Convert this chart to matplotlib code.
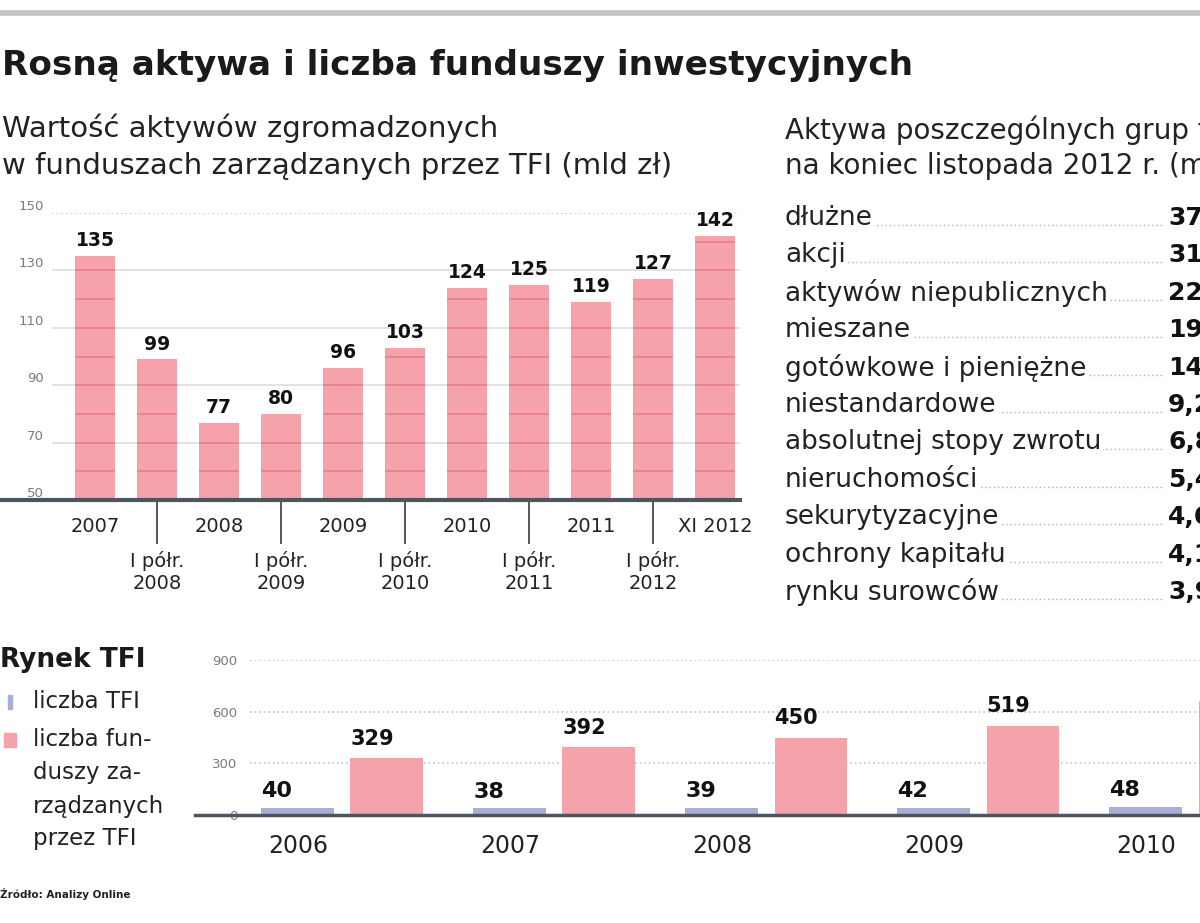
import numpy as np
import matplotlib
matplotlib.use("Agg")
import matplotlib.pyplot as plt
from matplotlib.lines import Line2D
from matplotlib.patches import Rectangle

plt.rcParams['font.family'] = ['DejaVu Sans']

# ---------------- data ----------------
title = "Rosną aktywa i liczba funduszy inwestycyjnych"
periods_year = ["2007", "2008", "2009", "2010", "2011", "XI 2012"]
periods_half = ["I półr.\n2008", "I półr.\n2009", "I półr.\n2010", "I półr.\n2011", "I półr.\n2012"]
assets = [135, 99, 77, 80, 96, 103, 124, 125, 119, 127, 142]   # mld zł

group_labels = ["dłużne", "akcji", "aktywów niepublicznych", "mieszane",
                "gotówkowe i pieniężne", "niestandardowe", "absolutnej stopy zwrotu",
                "nieruchomości", "sekurytyzacyjne", "ochrony kapitału", "rynku surowców"]
group_values = [37.2, 31.5, 22.4, 19.6, 14.3, 9.2, 6.8, 5.4, 4.6, 4.1, 3.9]

years_small = ["2006", "2007", "2008", "2009", "2010"]
tfi_count = [40, 38, 39, 42, 48]
fund_count = [329, 392, 450, 519, 660]

# ---------------- styling ----------------
W, H = 1200, 923
PINK = '#f6a2ab'
STRIPE = '#e8838f'
BLUE = '#a9afd6'
DARK = '#4d5560'
GREY = '#7a7a7a'

fig = plt.figure(figsize=(12, 9.23), dpi=100)


def fx(x):
    return x / W


def fy(y):
    return 1 - y / H


def rect(l, t, r, b):
    return [fx(l), fy(b), fx(r) - fx(l), fy(t) - fy(b)]


# header rule
fig.add_artist(Line2D([0, 1], [fy(13), fy(13)], color='#c2c2c2', lw=4))

fig.text(fx(2), fy(65), title, fontsize=24.7, fontweight='bold', va='center', ha='left', color='#1a1a1a')
fig.text(fx(2), fy(128), "Wartość aktywów zgromadzonych", fontsize=21, va='center', color='#222')
fig.text(fx(2), fy(166), "w funduszach zarządzanych przez TFI (mld zł)", fontsize=21, va='center', color='#222')

# ---------------- main bar chart ----------------
ax = fig.add_axes(rect(52, 213, 740, 500))
n = len(assets)
x = np.arange(n)
ax.set_xlim(-0.694, 10.40)
ax.set_ylim(50, 150)

for v in [70, 90, 110, 130]:
    ax.axhline(v, color='#dadada', lw=1.1, zorder=1)
ax.axhline(150, color='#bdbdbd', lw=1.1, ls=(0, (1, 2)), zorder=1)

bw_main = 0.65
vals = np.array(assets, dtype=float)
ax.bar(x, vals - 50, bottom=50, width=bw_main, color=PINK, zorder=2)
# darker stripes across the bars at every 10 units
for i, v in enumerate(assets):
    levels = np.arange(60, v, 10)
    ax.hlines(levels, i - bw_main / 2, i + bw_main / 2, color=STRIPE, lw=1.4, zorder=3)

for i, v in enumerate(assets):
    ax.annotate(str(v), (i, v), xytext=(0, 4), textcoords='offset points',
                ha='center', va='bottom', fontsize=13.5, fontweight='bold', color='#111', zorder=6)

ax.set_xticks(x[::2], periods_year)
ax.set_xticks(x[1::2], periods_half, minor=True)
ax.tick_params(axis='x', which='major', length=0, pad=12, labelsize=14, labelcolor='#222')
ax.tick_params(axis='x', which='minor', length=32, width=1.4, color='#555', pad=5,
               labelsize=14, labelcolor='#222')
ax.set_yticks([50, 70, 90, 110, 130, 150])
ax.tick_params(axis='y', length=0, pad=6, labelsize=9.5, labelcolor=GREY)
for lab in ax.get_yticklabels():
    lab.set_va('bottom')
for s in ax.spines.values():
    s.set_visible(False)
ax.plot([-1.533, 10.40], [50, 50], color=DARK, lw=3, clip_on=False, zorder=5)

# ---------------- right table ----------------
fig.text(fx(785), fy(130), "Aktywa poszczególnych grup funduszy", fontsize=20, va='center', color='#222')
fig.text(fx(785), fy(166), "na koniec listopada 2012 r. (mld zł)", fontsize=20, va='center', color='#222')
for i, (lab, val) in enumerate(zip(group_labels, group_values)):
    yy = 218 + 37.4 * i
    fig.add_artist(Line2D([fx(785), fx(1163)], [fy(yy + 7), fy(yy + 7)], color='#b0b0b0',
                          lw=1, ls=(0, (1, 2)), zorder=1))
    fig.text(fx(785), fy(yy), lab, fontsize=19, va='center', color='#222', zorder=3,
             bbox=dict(facecolor='white', edgecolor='none', pad=1.5))
    fig.text(fx(1168), fy(yy), f"{val:.1f}".replace('.', ','), fontsize=18, fontweight='bold',
             va='center', color='#111', zorder=3)

# ---------------- bottom chart ----------------
fig.text(fx(0), fy(660), "Rynek TFI", fontsize=19, fontweight='bold', va='center', color='#1a1a1a')
fig.add_artist(Rectangle((fx(8), fy(709)), fx(4), 14 / H, color=BLUE))
fig.text(fx(33), fy(702), "liczba TFI", fontsize=16.5, va='center', color='#222')
fig.add_artist(Rectangle((fx(4), fy(747)), fx(12), 14 / H, color=PINK))
for j, line in enumerate(["liczba fun-", "duszy za-", "rządzanych", "przez TFI"]):
    fig.text(fx(33), fy(740 + 33 * j), line, fontsize=16.5, va='center', color='#222')

ax2 = fig.add_axes(rect(250, 660, 1200, 815))
g = np.arange(len(years_small))
ax2.set_xlim(-0.436, 4.045)
ax2.set_ylim(0, 900)
for v in [300, 600, 900]:
    ax2.axhline(v, color='#bbbbbb', lw=1.1, ls=(0, (1, 2)), zorder=0)
bw = 0.344
ax2.bar(g - 0.21, tfi_count, width=bw, color=BLUE, zorder=2)
ax2.bar(g + 0.21, fund_count, width=bw, color=PINK, zorder=2)
for k in g:
    ax2.annotate(str(tfi_count[k]), (k - 0.21 - bw / 2, tfi_count[k]), xytext=(0, 5),
                 textcoords='offset points', ha='left', va='bottom', fontsize=16,
                 fontweight='bold', color='#111')
    ax2.annotate(str(fund_count[k]), (k + 0.21 - bw / 2, fund_count[k]), xytext=(0, 7),
                 textcoords='offset points', ha='left', va='bottom', fontsize=15,
                 fontweight='bold', color='#111')
ax2.set_xticks(g - 0.21, years_small)
ax2.tick_params(axis='x', length=0, pad=14, labelsize=17, labelcolor='#222')
ax2.set_yticks([0, 300, 600, 900])
ax2.tick_params(axis='y', length=0, pad=9, labelsize=9.5, labelcolor=GREY)
for s in ax2.spines.values():
    s.set_visible(False)
ax2.plot([-0.436 - 55 / 212, 4.045], [0, 0], color=DARK, lw=2.5, clip_on=False, zorder=5)

fig.text(fx(0), fy(894), "Źródło: Analizy Online", fontsize=7.5, fontweight='bold', va='center', color='#222')

fig.savefig("out.png", dpi=100)
